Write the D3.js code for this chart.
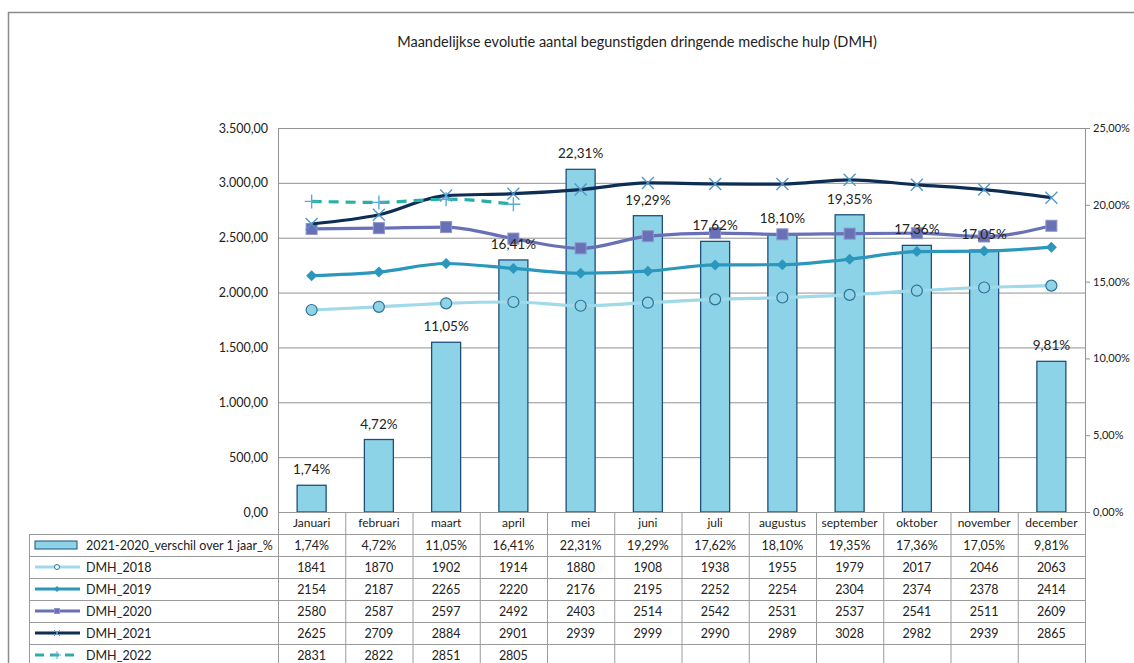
<!DOCTYPE html>
<html><head><meta charset="utf-8">
<script src="https://cdn.jsdelivr.net/npm/d3@7"></script>
<style>
html,body{margin:0;padding:0;background:#fff;overflow:hidden}
text{font-family:Lato,"Liberation Sans",sans-serif;fill:#222}
</style></head>
<body><svg id="c" width="1134" height="663"></svg>
<script>
const months = ["Januari","februari","maart","april","mei","juni","juli","augustus","september","oktober","november","december"];
const pctValues = [1.74,4.72,11.05,16.41,22.31,19.29,17.62,18.10,19.35,17.36,17.05,9.81];
const dmh2018 = [1841,1870,1902,1914,1880,1908,1938,1955,1979,2017,2046,2063];
const dmh2019 = [2154,2187,2265,2220,2176,2195,2252,2254,2304,2374,2378,2414];
const dmh2020 = [2580,2587,2597,2492,2403,2514,2542,2531,2537,2541,2511,2609];
const dmh2021 = [2625,2709,2884,2901,2939,2999,2990,2989,3028,2982,2939,2865];
const dmh2022 = [2831,2822,2851,2805];
const leftTicks = [0,500,1000,1500,2000,2500,3000,3500];
const rightTicks = [0,5,10,15,20,25];
const barName = "2021-2020_verschil over 1 jaar_%";
const title = "Maandelijkse evolutie aantal begunstigden dringende medische hulp (DMH)";

const series = [
  {name:"DMH_2018", values:dmh2018, color:"#9fd9ea", marker:"circle", mfill:"#8fd3e8", mstroke:"#2d7194", dash:null},
  {name:"DMH_2019", values:dmh2019, color:"#2b97bd", marker:"diamond", mfill:"#2b97bd", mstroke:"#2b97bd", dash:null},
  {name:"DMH_2020", values:dmh2020, color:"#6870b6", marker:"square", mfill:"#6870b6", mstroke:"#8d93c9", dash:null},
  {name:"DMH_2021", values:dmh2021, color:"#0d2d55", marker:"x", mfill:"none", mstroke:"#4f96c6", dash:null},
  {name:"DMH_2022", values:dmh2022, color:"#27b0a6", marker:"plus", mfill:"none", mstroke:"#5aa9d6", dash:"10,7"}
];

const loc = d3.formatLocale({decimal:",", thousands:".", grouping:[3], currency:["€",""]});
const fLeft = loc.format(",.2f");
const fPct = v => loc.format(".2f")(v) + "%";

const svg = d3.select("#c");
const L = 278, R = 1085, T = 128, B = 512;

// outer border
svg.append("path").attr("d","M8.5,663 V12.5 H1134").attr("fill","none").attr("stroke","#8a8a8a").attr("stroke-width",1.5);

svg.append("text").attr("x",637).attr("y",47).attr("text-anchor","middle").style("font-size","14.5px").text(title);

const x = d3.scaleBand().domain(months).range([L,R]);
const y = d3.scaleLinear().domain([0,3500]).range([B,T]);
const y2 = d3.scaleLinear().domain([0,25]).range([B,T]);

// gridlines
svg.append("g").selectAll("line").data(leftTicks).join("line")
  .attr("x1",L).attr("x2",R).attr("y1",d=>y(d)+0.5).attr("y2",d=>y(d)+0.5)
  .attr("stroke","#939393").attr("stroke-width",1);

// left axis
const gl = svg.append("g").attr("transform",`translate(${L},0)`)
  .call(d3.axisLeft(y).tickValues(leftTicks).tickFormat(fLeft).tickSize(0).tickPadding(10));
gl.select(".domain").attr("stroke","#939393");
gl.selectAll("text").style("font-size","12.5px").style("font-family","Lato,sans-serif").attr("fill","#222");

// right axis
const gr = svg.append("g").attr("transform",`translate(${R},0)`)
  .call(d3.axisRight(y2).tickValues(rightTicks).tickFormat(fPct).tickSize(5).tickPadding(3));
gr.select(".domain").attr("stroke","#939393");
gr.selectAll(".tick line").attr("stroke","#939393");
gr.selectAll("text").style("font-size","11px").style("font-family","Lato,sans-serif").attr("fill","#222");

// bars
const bw = 29;
svg.append("g").selectAll("rect").data(pctValues).join("rect")
  .attr("x",(d,i)=>x(months[i])+x.bandwidth()/2-bw/2)
  .attr("y",d=>y2(d)).attr("width",bw).attr("height",d=>B-y2(d))
  .attr("fill","#8dd3e8").attr("stroke","#1f4f78").attr("stroke-width",1.3);

// lines
const cx = i => x(months[i]) + x.bandwidth()/2;
function drawMarker(g, type, px, py, s){
  if(type==="circle") g.append("circle").attr("cx",px).attr("cy",py).attr("r",5.5).attr("fill",s.mfill).attr("stroke",s.mstroke).attr("stroke-width",1.2);
  else if(type==="diamond") g.append("path").attr("d",`M${px},${py-5.5}L${px+5.5},${py}L${px},${py+5.5}L${px-5.5},${py}Z`).attr("fill",s.mfill);
  else if(type==="square") g.append("rect").attr("x",px-5.5).attr("y",py-5.5).attr("width",11).attr("height",11).attr("fill",s.mfill).attr("stroke",s.mstroke).attr("stroke-width",1);
  else if(type==="x") g.append("path").attr("d",`M${px-6},${py-6}L${px+6},${py+6}M${px-6},${py+6}L${px+6},${py-6}`).attr("stroke",s.mstroke).attr("stroke-width",1.3);
  else if(type==="plus") g.append("path").attr("d",`M${px-7},${py}L${px+7},${py}M${px},${py-7}L${px},${py+7}`).attr("stroke",s.mstroke).attr("stroke-width",1.4);
}
const line = d3.line().x((d,i)=>cx(i)).y(d=>y(d)).curve(d3.curveMonotoneX);
series.forEach(s=>{
  const g = svg.append("g");
  g.append("path").datum(s.values).attr("d",line).attr("fill","none")
    .attr("stroke",s.color).attr("stroke-width",3.2).attr("stroke-dasharray",s.dash).attr("stroke-linejoin","round");
  s.values.forEach((v,i)=>drawMarker(g,s.marker,cx(i),y(v),s));
});

// bar labels
svg.append("g").selectAll("text").data(pctValues).join("text")
  .attr("x",(d,i)=>cx(i)).attr("y",d=>y2(d)-11).attr("text-anchor","middle")
  .style("font-size","13.5px").text(d=>fPct(d));

// data table
const rowH = 22;
const tL = 29;
const rows = [{name:barName, vals:pctValues.map(fPct), type:"bar"}].concat(series.map(s=>({name:s.name, vals:s.values.map(String), s})));
const tg = svg.append("g");
months.forEach((m,i)=>{
  tg.append("text").attr("x",cx(i)).attr("y",B+15).attr("text-anchor","middle").style("font-size","12px").text(m);
});
const gridC = "#9a9a9a";
months.forEach((m,i)=>{
  tg.append("line").attr("x1",x(m)+0.5).attr("x2",x(m)+0.5).attr("y1",B).attr("y2",663).attr("stroke",gridC);
});
tg.append("line").attr("x1",R+0.5).attr("x2",R+0.5).attr("y1",B).attr("y2",663).attr("stroke",gridC);
tg.append("line").attr("x1",tL+0.5).attr("x2",tL+0.5).attr("y1",B+rowH).attr("y2",663).attr("stroke",gridC);
for(let r=0;r<=rows.length;r++){
  const yy = B+rowH*(r+1)+0.5;
  tg.append("line").attr("x1",tL).attr("x2",R).attr("y1",yy).attr("y2",yy).attr("stroke",gridC);
}
tg.append("line").attr("x1",L).attr("x2",R).attr("y1",B+0.5).attr("y2",B+0.5).attr("stroke",gridC);
rows.forEach((row,r)=>{
  const ry = B+rowH*(r+1);
  const mid = ry+rowH/2;
  if(row.type==="bar"){
    tg.append("rect").attr("x",35).attr("y",mid-4).attr("width",42).attr("height",8).attr("fill","#8dd3e8").attr("stroke","#1f4f78").attr("stroke-width",1);
  } else {
    const s = row.s;
    tg.append("line").attr("x1",35).attr("x2",80).attr("y1",mid).attr("y2",mid).attr("stroke",s.color).attr("stroke-width",3.2).attr("stroke-dasharray",s.dash?"9,6":null);
    const g = tg.append("g");
    if(s.marker==="circle") g.append("circle").attr("cx",57).attr("cy",mid).attr("r",2.5).attr("fill","#fff").attr("stroke",s.mstroke);
    else if(s.marker==="diamond") g.append("path").attr("d",`M57,${mid-3}L60,${mid}L57,${mid+3}L54,${mid}Z`).attr("fill",s.mfill);
    else if(s.marker==="square") g.append("rect").attr("x",54.5).attr("y",mid-2.5).attr("width",5).attr("height",5).attr("fill",s.mfill).attr("stroke",s.mstroke);
    else if(s.marker==="x") g.append("path").attr("d",`M54,${mid-3}L60,${mid+3}M54,${mid+3}L60,${mid-3}`).attr("stroke",s.mstroke);
    else if(s.marker==="plus") g.append("path").attr("d",`M53,${mid}L61,${mid}M57,${mid-4}L57,${mid+4}`).attr("stroke",s.mstroke);
  }
  tg.append("text").attr("x",86).attr("y",mid+4.5).style("font-size","12.5px").text(row.name);
  row.vals.forEach((v,i)=>{
    tg.append("text").attr("x",cx(i)).attr("y",mid+4.5).attr("text-anchor","middle").style("font-size","12.5px").text(v);
  });
});
</script></body></html>
